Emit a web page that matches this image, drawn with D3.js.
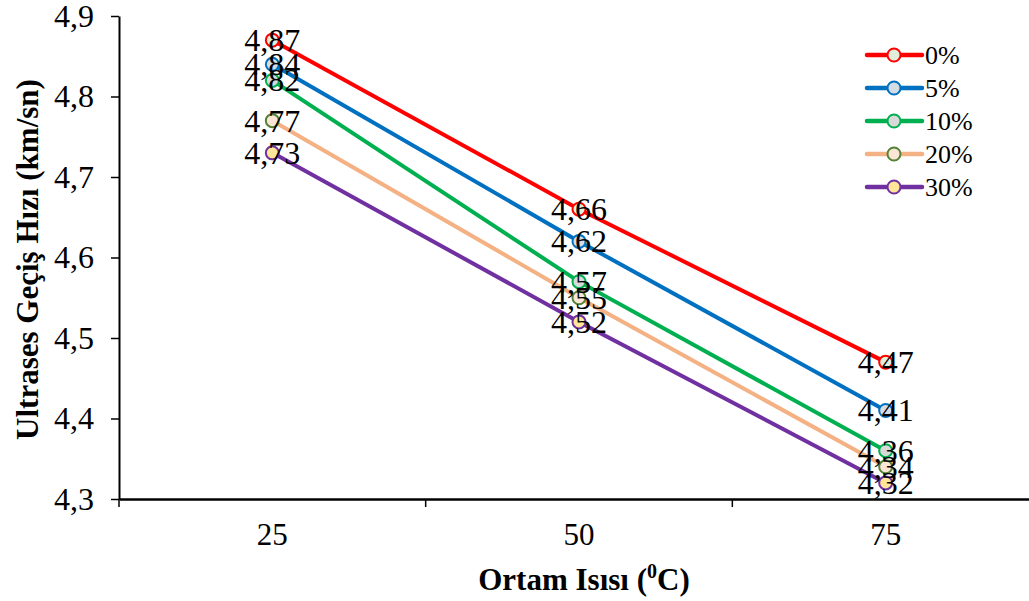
<!DOCTYPE html>
<html>
<head>
<meta charset="utf-8">
<script src="https://cdn.jsdelivr.net/npm/d3@7"></script>
<style>
  html, body { margin: 0; padding: 0; background: #fff; }
  svg text { font-family: "Times New Roman", "Liberation Serif", Tinos, "DejaVu Serif", serif; }
</style>
</head>
<body>
<div id="chart"></div>
<script>
// data
const temps = [25, 50, 75];
const seriesNames = ['0%', '5%', '10%', '20%', '30%'];
const v0 = [4.87, 4.66, 4.47];
const v5 = [4.84, 4.62, 4.41];
const v10 = [4.82, 4.57, 4.36];
const v20 = [4.77, 4.55, 4.34];
const v30 = [4.73, 4.52, 4.32];
const yTicks = [4.3, 4.4, 4.5, 4.6, 4.7, 4.8, 4.9];

const lineColors = ['#ff0000', '#0070c0', '#00b050', '#f4b183', '#7030a0'];
const markerStroke = ['#ff0000', '#0070c0', '#00b050', '#548235', '#7030a0'];
const markerFill = ['#e2efda', '#d6dce4', '#d9d9d9', '#fbe5d6', '#ffe699'];

const series = [v0, v5, v10, v20, v30].map((vals, i) => ({
  name: seriesNames[i],
  values: vals.map((v, j) => ({ t: temps[j], v: v }))
}));

const width = 1029, height = 601;
const plotLeft = 119, plotRight = 1039, plotTop = 16, plotBottom = 499;

const svg = d3.select('#chart').append('svg')
  .attr('width', width)
  .attr('height', height);

/* Scale */
const x = d3.scaleBand()
  .domain(temps)
  .range([plotLeft, plotRight]);

const y = d3.scaleLinear()
  .domain([4.3, 4.9])
  .range([plotBottom, plotTop]);

const fmt = d => d3.format('.2f')(d).replace('.', ',');

/* Axes */
const yAxis = d3.axisLeft(y)
  .tickValues(yTicks)
  .tickSizeInner(8)
  .tickSizeOuter(0)
  .tickPadding(17)
  .tickFormat(d => d3.format('.1f')(d).replace('.', ','));

svg.append('g')
  .attr('class', 'y axis')
  .attr('transform', `translate(${plotLeft},0)`)
  .call(yAxis)
  .call(g => {
    g.attr('font-family', null);
    g.select('.domain').attr('stroke', '#000').attr('stroke-width', 2);
    g.selectAll('.tick line').attr('stroke', '#000').attr('stroke-width', 1.5);
    g.selectAll('.tick text').attr('fill', '#000').style('font-size', '32px');
  });

const xAxis = d3.axisBottom(x)
  .tickSize(0)
  .tickPadding(24)
  .tickFormat(d => d);

svg.append('g')
  .attr('class', 'x axis')
  .attr('transform', `translate(0,${plotBottom})`)
  .call(xAxis)
  .call(g => {
    g.attr('font-family', null);
    g.select('.domain').attr('stroke', '#000').attr('stroke-width', 2.5);
    g.selectAll('.tick text').attr('fill', '#000').style('font-size', '31px');
  });

// tick marks between categories
svg.append('g')
  .selectAll('line')
  .data(temps)
  .enter()
  .append('line')
  .attr('x1', d => x(d))
  .attr('x2', d => x(d))
  .attr('y1', plotBottom)
  .attr('y2', plotBottom + 8)
  .attr('stroke', '#000')
  .attr('stroke-width', 1.5);

/* Axis titles */
svg.append('text')
  .attr('x', (plotLeft + plotRight) / 2 + 5)
  .attr('y', 590)
  .attr('text-anchor', 'middle')
  .style('font-size', '31px')
  .style('font-weight', 'bold')
  .html('Ortam Isısı (<tspan dy="-12" font-size="20px">0</tspan><tspan dy="12">C)</tspan>');

svg.append('text')
  .attr('transform', `translate(38,${(plotTop + plotBottom) / 2 + 2}) rotate(-90)`)
  .attr('text-anchor', 'middle')
  .style('font-size', '31px')
  .style('font-weight', 'bold')
  .text('Ultrases Geçiş Hızı (km/sn)');

/* Lines */
const line = d3.line()
  .x(d => x(d.t) + x.bandwidth() / 2)
  .y(d => y(d.v));

const groups = svg.append('g').attr('class', 'lines')
  .selectAll('.line-group')
  .data(series)
  .enter()
  .append('g')
  .attr('class', 'line-group');

groups.append('path')
  .attr('d', d => line(d.values))
  .style('fill', 'none')
  .style('stroke', (d, i) => lineColors[i])
  .style('stroke-width', 4);

groups.selectAll('circle')
  .data((d, i) => d.values.map(p => ({ ...p, i })))
  .enter()
  .append('circle')
  .attr('cx', d => x(d.t) + x.bandwidth() / 2)
  .attr('cy', d => y(d.v))
  .attr('r', 6.5)
  .style('fill', d => markerFill[d.i])
  .style('stroke', d => markerStroke[d.i])
  .style('stroke-width', 2);

/* Data labels */
const labels = svg.append('g').attr('class', 'labels');
series.forEach(s => {
  labels.selectAll(null)
    .data(s.values)
    .enter()
    .append('text')
    .attr('x', d => x(d.t) + x.bandwidth() / 2)
    .attr('y', d => y(d.v) + 11)
    .attr('text-anchor', 'middle')
    .style('font-size', '32px')
    .style('fill', '#000')
    .text(d => fmt(d.v));
});

/* Legend */
const legend = svg.append('g')
  .attr('class', 'legend')
  .attr('transform', 'translate(867,55)');

const item = legend.selectAll('.item')
  .data(seriesNames)
  .enter()
  .append('g')
  .attr('transform', (d, i) => `translate(0,${i * 33})`);

item.append('line')
  .attr('x1', 0).attr('x2', 55)
  .attr('stroke', (d, i) => lineColors[i])
  .attr('stroke-width', 4.5)
  .attr('stroke-linecap', 'round');

item.append('circle')
  .attr('cx', 27)
  .attr('r', 6.5)
  .style('fill', (d, i) => markerFill[i])
  .style('stroke', (d, i) => markerStroke[i])
  .style('stroke-width', 2);

item.append('text')
  .attr('x', 58)
  .attr('y', 9)
  .style('font-size', '26px')
  .text(d => d);
</script>
</body>
</html>
